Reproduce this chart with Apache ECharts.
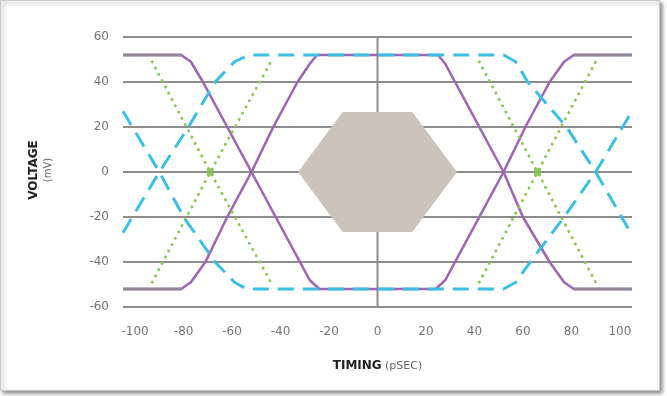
<!DOCTYPE html>
<html>
<head>
<meta charset="utf-8">
<script src="https://cdn.jsdelivr.net/npm/echarts@6/dist/echarts.min.js"></script>
<style>
html,body{margin:0;padding:0;background:#fff;}
#chart{width:667px;height:396px;}
</style>
</head>
<body>
<div id="chart"></div>
<script>
// ---- data ----
const xTickLabels = [-100, -80, -60, -40, -20, 0, 20, 40, 60, 80, 100];
const yTickLabels = [-60, -40, -20, 0, 20, 40, 60];

// purple solid traces
const purpleFalling = [[-105,52],[-81,52],[-77,49],[-72,40],[-62,20],[-52,0],[-42,-20],[-32,-40],[-28,-48],[-24,-52],[24,-52],[28,-48],[32,-40],[42,-20],[52,0],[61,20],[71,40],[77,49],[81,52],[105,52]];
const purpleRising  = [[-105,-52],[-81,-52],[-77,-49],[-71,-40],[-62,-20],[-52,0],[-43,20],[-33,40],[-28,48],[-25,52],[25,52],[28,48],[32,40],[42,20],[52,0],[60,-20],[71,-40],[77,-49],[81,-52],[105,-52]];

// cyan dashed traces
const cyanLow  = [[-105,27],[-90,0],[-80,-20],[-67,-40],[-59,-49],[-54,-52],[52,-52],[57,-49],[63,-40],[77,-20],[90,0],[105,27]];
const cyanHigh = [[-105,-27],[-90,0],[-78,20],[-67,40],[-59,49],[-53,52],[52,52],[57,49],[62,40],[78,20],[90,0],[105,-28]];

// green dotted crossings
const greenL1 = [[-93,49],[-69,0],[-44,-49]];
const greenL2 = [[-93,-49],[-69,0],[-44,49]];
const greenR1 = [[42,49],[66,0],[90,-49]];
const greenR2 = [[42,-49],[66,0],[90,49]];
const greenCross = [[-69,0],[66,0]];

// grey rails at the saturated levels
const railTL = [[-105,52],[-81,52]];
const railTR = [[81,52],[105,52]];
const railBL = [[-105,-52],[-81,-52]];
const railBR = [[81,-52],[105,-52]];

// centre line and eye mask
const zeroLine = [[0,-60],[0,60]];
const eyeMask = [[-32,0],[-14,26],[14,26],[32,0],[14,-26],[-14,-26]];

// ---- chart ----
const PURPLE = '#9f66b5';
const CYAN = '#3bbfe4';
const GREEN = '#8fc85a';
const GRID = '#8d8d8d';

function lineSeries(data, color, width, type, z, cap) {
  return {
    type: 'line', data: data, symbol: 'none', z: z, silent: true,
    lineStyle: { color: color, width: width, type: type, cap: cap || 'butt', join: 'round' },
    animation: false
  };
}

const chart = echarts.init(document.getElementById('chart'), null, {renderer: 'canvas'});
chart.setOption({
  animation: false,
  backgroundColor: 'transparent',
  grid: { left: 123, right: 35, top: 37, bottom: 89 },
  xAxis: {
    type: 'value', min: -105, max: 105,
    axisLine: { show: false }, axisTick: { show: false }, splitLine: { show: false },
    axisLabel: {
      customValues: xTickLabels, margin: 19,
      color: '#747474', fontSize: 12, fontFamily: 'DejaVu Sans'
    },
    name: '{b|TIMING} {n|(pSEC)}', nameLocation: 'middle', nameGap: 53,
    nameTextStyle: {
      rich: {
        b: { fontFamily: 'DejaVu Sans', fontWeight: 'bold', fontSize: 12, color: '#222' },
        n: { fontFamily: 'DejaVu Sans', fontSize: 11, color: '#666' }
      }
    }
  },
  yAxis: {
    type: 'value', min: -60, max: 60, interval: 20,
    axisLine: { show: false }, axisTick: { show: false },
    splitLine: { show: true, lineStyle: { color: GRID, width: 2 } },
    axisLabel: { margin: 14, color: '#747474', fontSize: 12, fontFamily: 'DejaVu Sans',
      customValues: yTickLabels }
  },
  graphic: [
    { type: 'rect', z: -100, shape: { x: 0.5, y: 0.5, width: 659, height: 390 },
      style: { fill: '#fff', stroke: '#c9c9c9', lineWidth: 1,
        shadowBlur: 4, shadowOffsetX: 2, shadowOffsetY: 2, shadowColor: 'rgba(0,0,0,0.45)' } },
    { type: 'text', x: 34, y: 170, rotation: Math.PI / 2,
      style: { text: 'VOLTAGE', font: 'bold 12px "DejaVu Sans"', fill: '#222', align: 'center', verticalAlign: 'middle' } },
    { type: 'text', x: 48, y: 170, rotation: Math.PI / 2,
      style: { text: '(mV)', font: '10px "DejaVu Sans"', fill: '#666', align: 'center', verticalAlign: 'middle' } }
  ],
  series: [
    lineSeries(zeroLine, GRID, 2, 'solid', 1),
    {
      type: 'custom', z: 2, silent: true, data: eyeMask,
      encode: { x: 0, y: 1 },
      renderItem: function (params, api) {
        if (params.dataIndex !== 0) return null;
        const pts = eyeMask.map(function (p) { return api.coord(p); });
        return { type: 'polygon', shape: { points: pts },
          style: { fill: '#ccc3bb', stroke: '#ccc3bb', lineWidth: 3, lineJoin: 'round' } };
      }
    },
    lineSeries(purpleFalling, PURPLE, 2.6, 'solid', 3),
    lineSeries(purpleRising, PURPLE, 2.6, 'solid', 3),
    lineSeries(railTL, '#8f8a93', 3, 'solid', 4),
    lineSeries(railTR, '#8f8a93', 3, 'solid', 4),
    lineSeries(railBL, '#8f8a93', 3, 'solid', 4),
    lineSeries(railBR, '#8f8a93', 3, 'solid', 4),
    lineSeries(greenL1, GREEN, 3, [0.1, 7], 5, 'round'),
    lineSeries(greenL2, GREEN, 3, [0.1, 7], 5, 'round'),
    lineSeries(greenR1, GREEN, 3, [0.1, 7], 5, 'round'),
    lineSeries(greenR2, GREEN, 3, [0.1, 7], 5, 'round'),
    {
      type: 'scatter', z: 6, silent: true, data: greenCross, symbol: 'rect', symbolSize: 7,
      itemStyle: { color: '#86bf52' }
    },
    lineSeries(cyanLow, CYAN, 3, [16, 9], 6),
    lineSeries(cyanHigh, CYAN, 3, [16, 9], 6)
  ]
});
</script>
</body>
</html>
